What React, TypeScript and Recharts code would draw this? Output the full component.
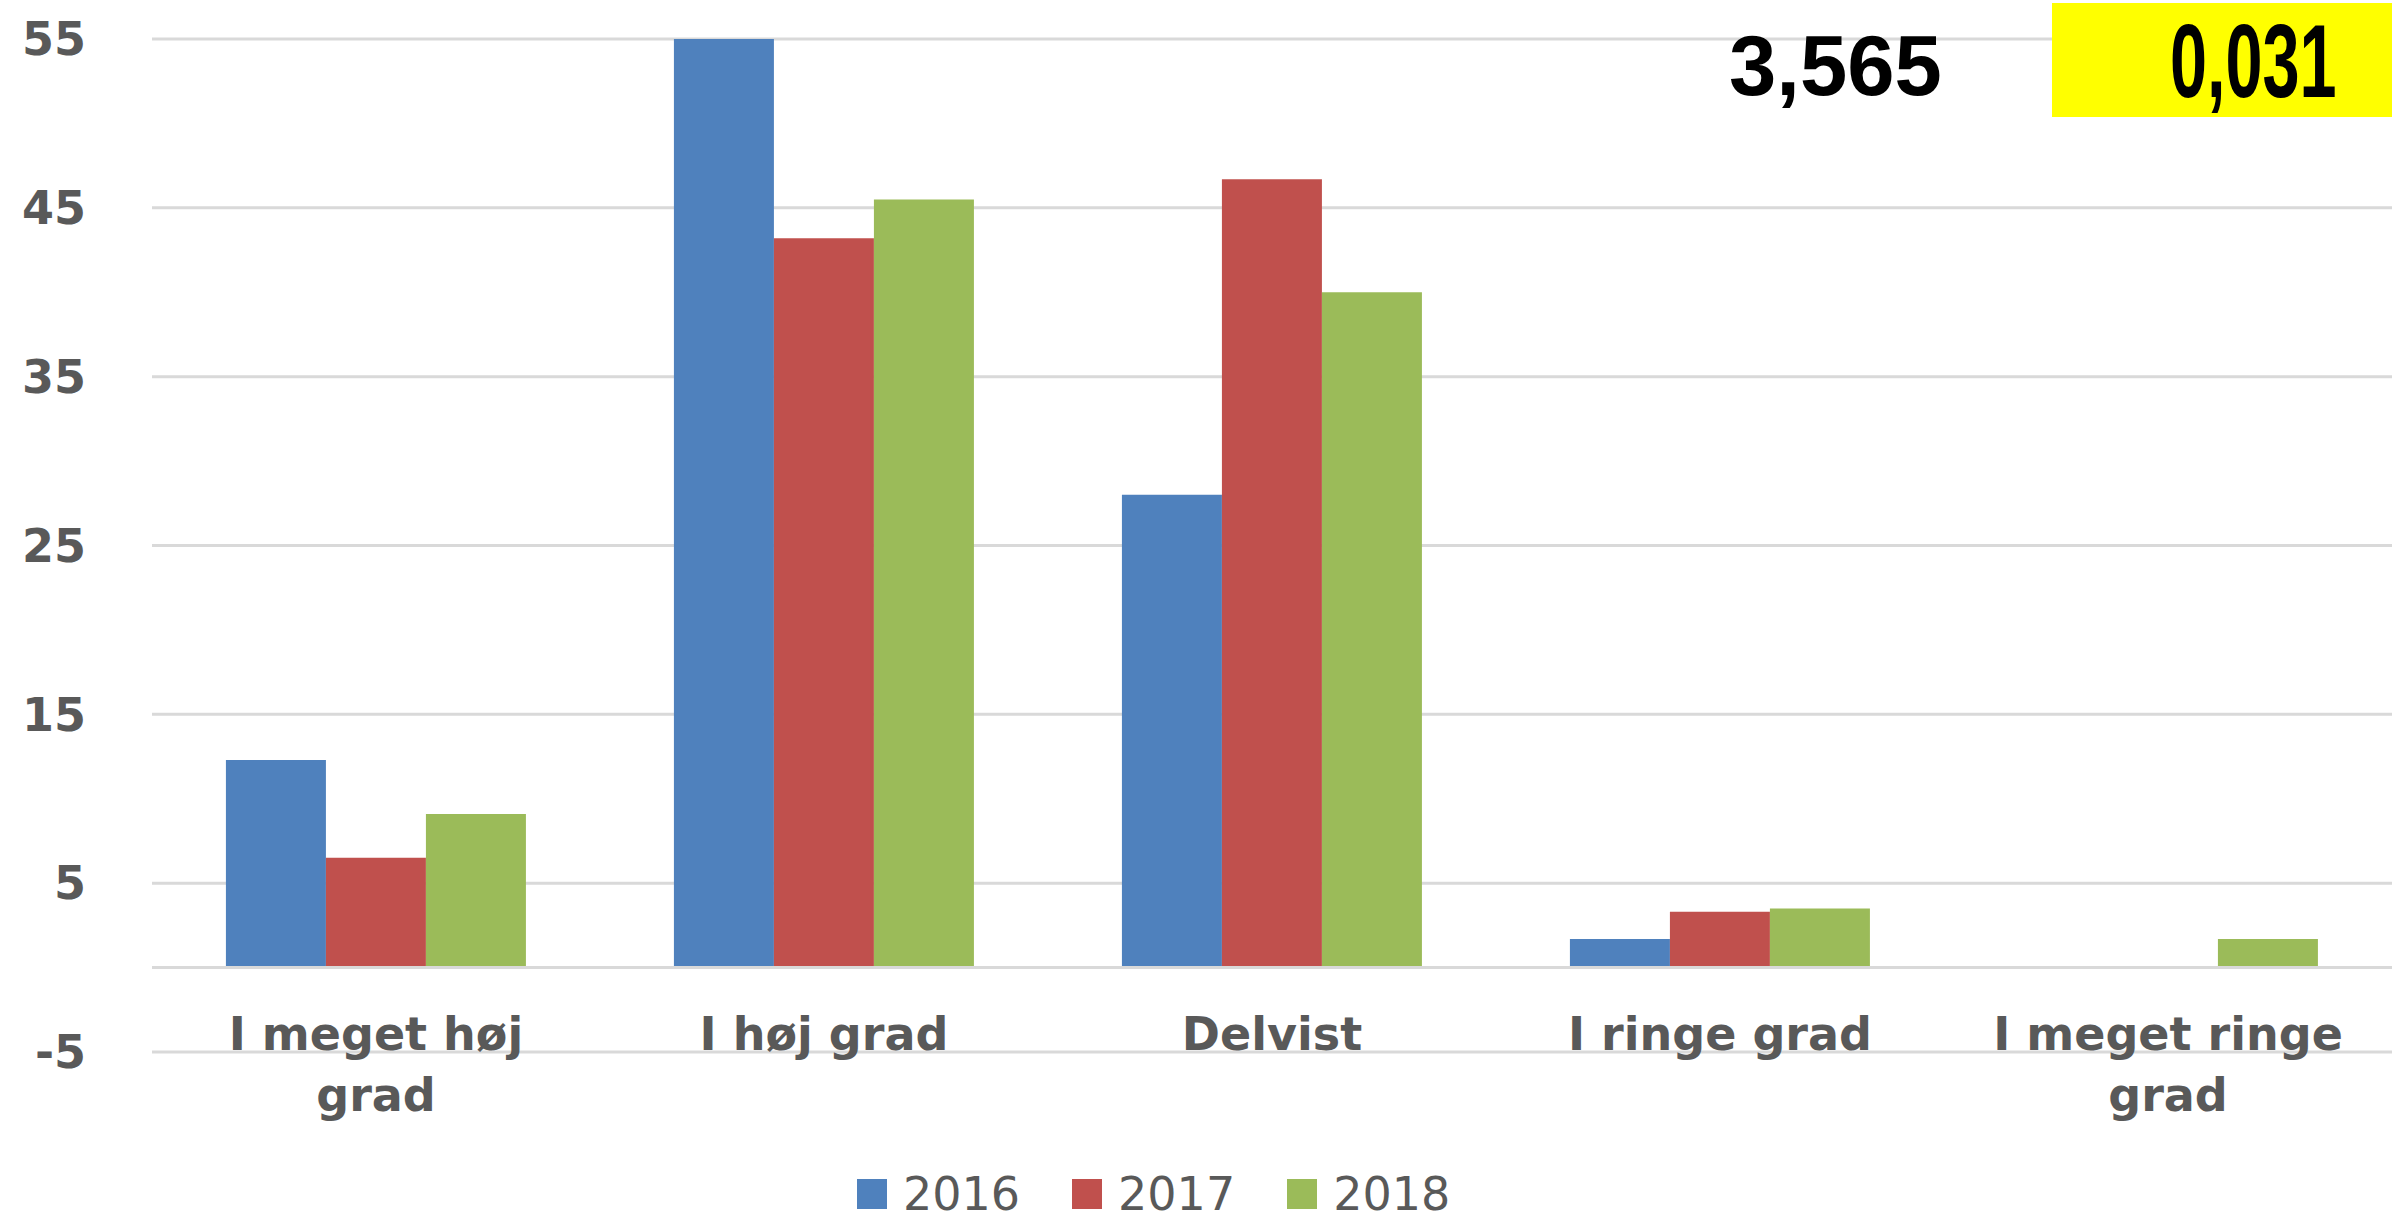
import React from "react";
import {
  BarChart,
  Bar,
  XAxis,
  YAxis,
  CartesianGrid,
  ReferenceLine,
  Legend,
} from "recharts";

const categories = [
  "I meget høj grad",
  "I høj grad",
  "Delvist",
  "I ringe grad",
  "I meget ringe grad",
];
const values2016 = [12.3, 55.0, 28.0, 1.7, 0];
const values2017 = [6.5, 43.2, 46.7, 3.3, 0];
const values2018 = [9.1, 45.5, 40.0, 3.5, 1.7];
const seriesNames = ["2016", "2017", "2018"];
const seriesColors = ["#4F81BD", "#C0504D", "#9BBB59"];
const yTicks = [-5, 5, 15, 25, 35, 45, 55];
const statValue = "3,565";
const pValue = "0,031";

const data = categories.map((name, i) => ({
  name,
  "2016": values2016[i],
  "2017": values2017[i],
  "2018": values2018[i],
}));

const W = 2392;
const H = 1218;
const GRAY = "#595959";
const FONT = "'DejaVu Sans', Verdana, sans-serif";
const LABEL_SIZE = 46;
const MAX_LABEL_W = 375;
const LEGEND_H = 48;

let measureCtx: CanvasRenderingContext2D | null = null;
function measure(s: string): number {
  if (!measureCtx) {
    const c = document.createElement("canvas");
    measureCtx = c.getContext("2d");
  }
  if (!measureCtx) return s.length * LABEL_SIZE * 0.6;
  measureCtx.font = `bold ${LABEL_SIZE}px ${FONT}`;
  return measureCtx.measureText(s).width;
}

function wrap(label: string): string[] {
  const words = label.split(" ");
  const lines: string[] = [];
  let cur = "";
  for (const w of words) {
    const next = cur ? cur + " " + w : w;
    if (cur && measure(next) > MAX_LABEL_W) {
      lines.push(cur);
      cur = w;
    } else {
      cur = next;
    }
  }
  if (cur) lines.push(cur);
  return lines;
}

const CategoryTick = (props: any) => {
  const { x, y, payload } = props;
  const lines = wrap(String(payload.value));
  return (
    <text
      x={x}
      y={y - 2}
      textAnchor="middle"
      fill={GRAY}
      fontSize={LABEL_SIZE}
      fontWeight="bold"
      fontFamily={FONT}
    >
      {lines.map((l, i) => (
        <tspan key={i} x={x} dy={i === 0 ? 0 : 61}>
          {l}
        </tspan>
      ))}
    </text>
  );
};

const LegendContent = () => (
  <div
    style={{
      display: "flex",
      alignItems: "center",
      height: LEGEND_H,
      fontFamily: FONT,
      fontSize: 46,
      color: GRAY,
    }}
  >
    {seriesNames.map((n, i) => (
      <div key={n} style={{ display: "flex", alignItems: "center", marginRight: 52 }}>
        <div style={{ width: 30, height: 30, background: seriesColors[i], marginRight: 16 }} />
        <span style={{ lineHeight: `${LEGEND_H}px` }}>{n}</span>
      </div>
    ))}
  </div>
);

export default function App() {
  return (
    <div style={{ position: "absolute", left: 0, top: 0, width: W, height: H, background: "#fff" }}>
      <BarChart
        width={W}
        height={H}
        data={data}
        margin={{ top: 39, right: 0, left: 0, bottom: 0 }}
        barGap={0}
        barCategoryGap="16.5%"
      >
        <CartesianGrid vertical={false} stroke="#d9d9d9" strokeWidth={3} />
        <XAxis
          dataKey="name"
          height={166 - LEGEND_H}
          axisLine={false}
          tickLine={false}
          tickSize={0}
          tickMargin={0}
          interval={0}
          tick={<CategoryTick />}
        />
        <YAxis
          width={152}
          domain={[-5, 55]}
          ticks={yTicks}
          interval={0}
          axisLine={false}
          tickLine={false}
          tickSize={0}
          tickMargin={66}
          tick={{ fill: GRAY, fontSize: 46, fontWeight: "bold", fontFamily: FONT }}
        />
        <ReferenceLine y={0} stroke="#d9d9d9" strokeWidth={3} />
        <Legend
          verticalAlign="bottom"
          content={<LegendContent />}
          wrapperStyle={{ left: 857, width: 800, bottom: 0 }}
        />
        {seriesNames.map((n, i) => (
          <Bar key={n} dataKey={n} fill={seriesColors[i]} isAnimationActive={false} />
        ))}
      </BarChart>
      <svg
        width={W}
        height={H}
        style={{ position: "absolute", left: 0, top: 0, pointerEvents: "none" }}
      >
        <rect x={2052} y={3} width={340} height={114} fill="#FFFF00" />
        <text
          x={1729}
          y={95}
          fontFamily="'Liberation Sans', Arial, sans-serif"
          fontWeight="bold"
          fontSize={85}
          fill="#000"
        >
          {statValue}
        </text>
        <text
          transform="translate(2170,97) scale(0.64,1)"
          fontFamily="'Liberation Sans', Arial, sans-serif"
          fontWeight="bold"
          fontSize={104}
          fill="#000"
        >
          {pValue}
        </text>
      </svg>
    </div>
  );
}
